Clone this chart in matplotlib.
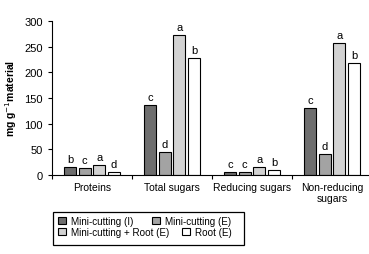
import matplotlib
matplotlib.use("Agg")
from matplotlib import pyplot as plt
from matplotlib.patches import Rectangle
import numpy as np

plt.rcParams['font.family'] = ['Liberation Sans Narrow', 'Liberation Sans', 'DejaVu Sans']

categories = ["Proteins", "Total sugars", "Reducing sugars", "Non-reducing\nsugars"]
series = ["Mini-cutting (I)", "Mini-cutting (E)", "Mini-cutting + Root (E)", "Root (E)"]
mini_i = [15, 136, 5, 130]
mini_e = [13, 44, 5, 41]
mini_root = [19, 273, 15, 257]
root = [6, 227, 9, 218]
letters = [
    ["b", "c", "c", "c"],
    ["c", "d", "c", "d"],
    ["a", "a", "a", "a"],
    ["d", "b", "b", "b"],
]
colors = ['#6e6e6e', '#a3a3a3', '#d2d2d2', '#ffffff']

fig = plt.figure(figsize=(3.69, 2.55), dpi=100)
ax = fig.add_axes([0.141, 0.31, 0.867, 0.604])

x = np.arange(len(categories))
width = 0.15
step = 0.183
handles = []
for i, vals in enumerate([mini_i, mini_e, mini_root, root]):
    pos = x + (i - 1.5) * step
    b = ax.bar(pos, vals, width, color=colors[i], edgecolor='black', linewidth=0.8, label=series[i])
    handles.append(b)
    for p, v, l in zip(pos, vals, letters[i]):
        ax.text(p, v + 6, l, ha='center', va='bottom', fontsize=8)

ax.set_xlim(-0.5, 3.5)
ax.set_ylim(0, 300)
ax.set_yticks([0, 50, 100, 150, 200, 250, 300])
ax.set_xticks(x)
ax.set_xticklabels(categories, fontsize=7.5)
ax.tick_params(axis='x', length=0, pad=5)
ax.set_xticks([-0.5, 0.5, 1.5, 2.5, 3.5], minor=True)
ax.tick_params(axis='x', which='minor', length=3, width=0.8)
ax.tick_params(axis='y', labelsize=8, length=3, width=0.8)
ax.spines['top'].set_visible(False)
ax.spines['right'].set_visible(False)
ax.set_ylabel("mg g$^{-1}$material", fontsize=7.5, fontweight='bold')

# legend: two rows laid out independently, inside one frame
leg_kw = dict(loc='center left', ncol=2, fontsize=7.1, frameon=False,
              handlelength=0.75, handleheight=0.75, handletextpad=0.55,
              borderpad=0, borderaxespad=0)
fig.legend([handles[0], handles[1]], [series[0], series[1]],
           bbox_to_anchor=(0.158, 0.129), columnspacing=1.9, **leg_kw)
fig.legend([handles[2], handles[3]], [series[2], series[3]],
           bbox_to_anchor=(0.158, 0.086), columnspacing=1.3, **leg_kw)
fig.add_artist(Rectangle((0.1436, 0.035), 0.518, 0.13, transform=fig.transFigure,
                         fill=False, edgecolor='black', linewidth=0.9))

fig.savefig("out.png", dpi=100)
